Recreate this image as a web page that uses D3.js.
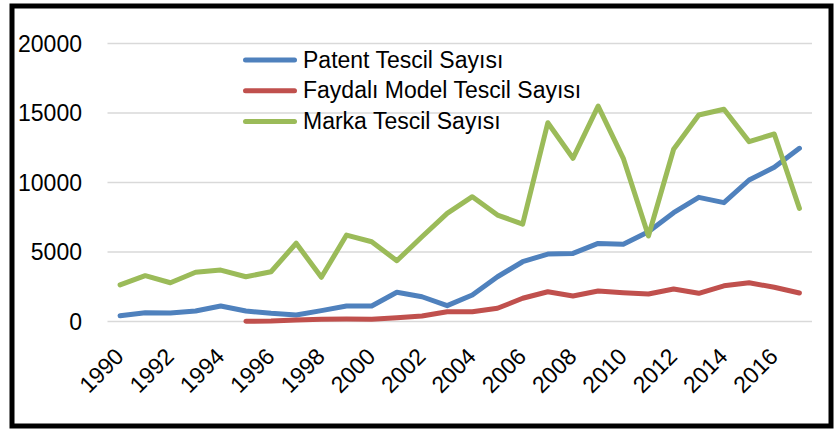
<!DOCTYPE html>
<html>
<head>
<meta charset="utf-8">
<script src="https://cdn.jsdelivr.net/npm/d3@7"></script>
<style>
  body { margin: 0; background: #fff; }
  text { font-family: "Liberation Sans", Arial, sans-serif; fill: #000; }
</style>
</head>
<body>
<div class="chart"></div>
<script>
const width = 835;
const height = 430;

const years = d3.range(1990, 2018);
const patent = [420, 630, 620, 750, 1110, 760, 590, 470, 780, 1110, 1120, 2100, 1780, 1140, 1910,
  3220, 4300, 4850, 4900, 5620, 5550, 6460, 7830, 8930, 8550, 10180, 11090, 12460];
const faydali = [null, null, null, null, null, 20, 30, 100, 160, 180, 160, 270, 400, 700, 700,
  950, 1670, 2140, 1840, 2190, 2070, 1980, 2340, 2030, 2570, 2790, 2460, 2050];
const marka = [2630, 3300, 2790, 3540, 3700, 3220, 3580, 5630, 3180, 6220, 5740, 4370, 6100, 7780, 8980,
  7660, 7010, 14300, 11740, 15500, 11740, 6150, 12390, 14860, 15270, 12940, 13490, 8140];
const yTicks = [0, 5000, 10000, 15000, 20000];
const xLabels = years.filter((y) => y % 2 === 0);

const seriesNames = ["Patent Tescil Sayısı", "Faydalı Model Tescil Sayısı", "Marka Tescil Sayısı"];
const seriesColors = ["#4F81BD", "#C0504D", "#9BBB59"];
const seriesValues = [patent, faydali, marka];

const svg = d3.select(".chart").append("svg")
  .attr("width", width)
  .attr("height", height);

// frame
svg.append("rect")
  .attr("x", 12).attr("y", 6)
  .attr("width", 819).attr("height", 420)
  .attr("fill", "#fff")
  .attr("stroke", "#000")
  .attr("stroke-width", 5);

const xScale = d3.scalePoint().domain(years).range([107.5, 812]).padding(0.5);
const yScale = d3.scaleLinear().domain([0, 20000]).range([321.5, 43.5]);

// gridlines
svg.append("g")
  .selectAll("line")
  .data(yTicks)
  .enter()
  .append("line")
  .attr("x1", 107.5)
  .attr("x2", 812)
  .attr("y1", (d) => yScale(d))
  .attr("y2", (d) => yScale(d))
  .attr("stroke", "#D9D9D9")
  .attr("stroke-width", 1.5);

// y labels
svg.append("g")
  .selectAll("text")
  .data(yTicks)
  .enter()
  .append("text")
  .attr("x", 82)
  .attr("y", (d) => yScale(d))
  .attr("dy", "0.35em")
  .attr("text-anchor", "end")
  .attr("font-size", 23)
  .text((d) => d);

// x labels
svg.append("g")
  .selectAll("text")
  .data(xLabels)
  .enter()
  .append("text")
  .attr("text-anchor", "end")
  .attr("font-size", 23)
  .attr("transform", (d) => "translate(" + (xScale(d) + 5) + ",358) rotate(-45)")
  .text((d) => d);

// lines
const line = d3.line()
  .defined((d) => d.v !== null)
  .x((d) => xScale(d.year))
  .y((d) => yScale(d.v));

seriesValues.forEach((vals, i) => {
  svg.append("path")
    .datum(years.map((y, j) => ({ year: y, v: vals[j] })))
    .attr("d", line)
    .attr("fill", "none")
    .attr("stroke", seriesColors[i])
    .attr("stroke-width", 5)
    .attr("stroke-linecap", "round")
    .attr("stroke-linejoin", "round");
});

// legend
const legend = svg.append("g");
seriesNames.forEach((name, i) => {
  const ly = 60 + i * 30.8;
  legend.append("line")
    .attr("x1", 245.5).attr("x2", 294.5)
    .attr("y1", ly).attr("y2", ly)
    .attr("stroke", seriesColors[i])
    .attr("stroke-width", 5)
    .attr("stroke-linecap", "round");
  legend.append("text")
    .attr("x", 303)
    .attr("y", ly + 7.5)
    .attr("font-size", 23)
    .text(name);
});
</script>
</body>
</html>
